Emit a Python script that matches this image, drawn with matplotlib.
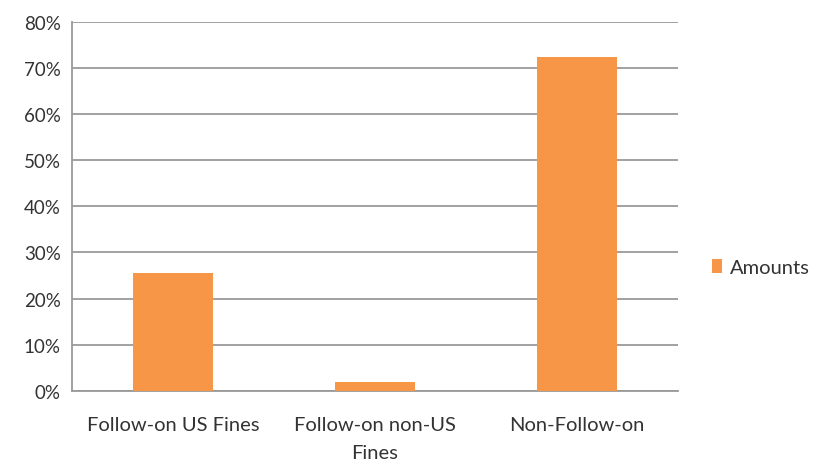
import matplotlib.pyplot as plt
from matplotlib.ticker import FuncFormatter

# data
categories = ["Follow-on US Fines", "Follow-on non-US\nFines", "Non-Follow-on"]
amounts = [25.6, 1.9, 72.4]
yticks = [0, 10, 20, 30, 40, 50, 60, 70, 80]

plt.rcParams["font.family"] = ["Lato", "DejaVu Sans"]

fig = plt.figure(figsize=(8.14, 4.64), dpi=100)
ax = fig.add_axes([0.0885, 0.155, 0.7445, 0.7965])

bars = ax.bar(range(len(categories)), amounts, width=0.4, color="#F79646",
              label="Amounts", zorder=3)

ax.set_xlim(-0.5, len(categories) - 0.5)
ax.set_ylim(0, 80)
ax.set_yticks(yticks)
ax.yaxis.set_major_formatter(FuncFormatter(lambda v, p: f"{int(v)}%"))
ax.set_xticks(range(len(categories)))
ax.set_xticklabels(categories, fontsize=14.5, color="#333333", linespacing=1.75)
ax.tick_params(axis="y", labelsize=13.5, labelcolor="#333333", length=0, pad=8)
ax.tick_params(axis="x", length=0, pad=18)

ax.grid(axis="y", color="#9a9a9a", linewidth=1.3, zorder=0)
for s in ["top", "right"]:
    ax.spines[s].set_visible(False)
ax.spines["left"].set_color("#9a9a9a")
ax.spines["bottom"].set_color("#9a9a9a")
ax.spines["left"].set_linewidth(1.3)
ax.spines["bottom"].set_linewidth(1.3)

ax.legend(loc="center left", bbox_to_anchor=(1.043, 0.335), frameon=False,
          fontsize=14.5, handlelength=0.5, handleheight=0.7, handletextpad=0.4,
          labelcolor="#333333", borderaxespad=0)

fig.savefig("out.png", dpi=100)
